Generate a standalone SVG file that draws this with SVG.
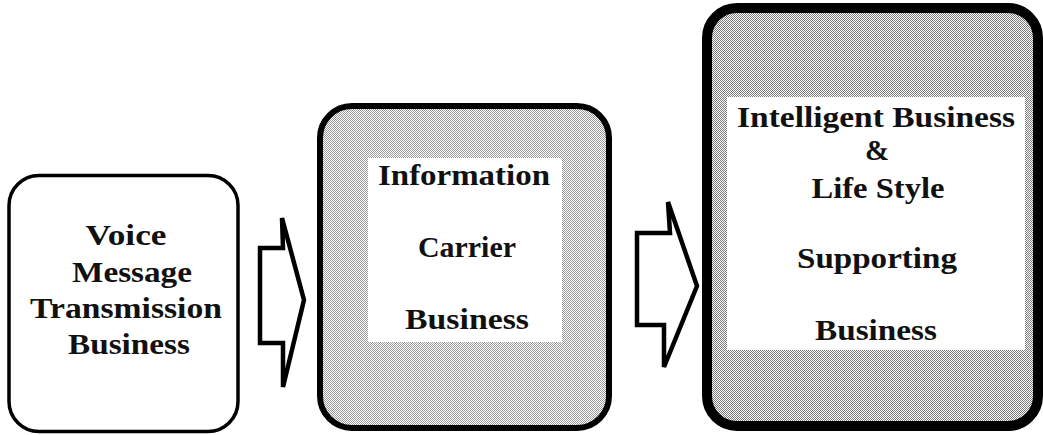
<svg xmlns="http://www.w3.org/2000/svg" width="1043" height="435" viewBox="0 0 1043 435">
<style>
  .lbl { font-family: "Liberation Serif", "Times New Roman", serif; font-weight: bold; font-size: 29px; fill: #111; text-anchor: middle; }
  .box { stroke: #000; }
  .arrow { fill: #fff; stroke: #000; stroke-width: 4.5; stroke-linejoin: miter; }
</style>
<defs>
  <pattern id="stipLight" width="2" height="2" patternUnits="userSpaceOnUse">
    <rect width="2" height="2" fill="#fff"/>
    <rect x="0" y="0" width="1" height="1" fill="#9a9a9a"/>
    <rect x="1" y="1" width="1" height="1" fill="#9a9a9a"/>
  </pattern>
  <pattern id="stipDark" width="2" height="2" patternUnits="userSpaceOnUse">
    <rect width="2" height="2" fill="#fff"/>
    <rect x="0" y="0" width="1" height="1" fill="#7a7a7a"/>
    <rect x="1" y="1" width="1" height="1" fill="#7a7a7a"/>
  </pattern>
</defs>
<rect width="1043" height="435" fill="#fff"/>

<g id="node-voice">
  <rect class="box" x="9" y="175.5" width="229" height="256" rx="30" ry="30" fill="#fff" stroke-width="3.5"/>
  <text class="lbl" x="126" y="245" textLength="81" lengthAdjust="spacingAndGlyphs">Voice</text>
  <text class="lbl" x="132" y="282" textLength="120" lengthAdjust="spacingAndGlyphs">Message</text>
  <text class="lbl" x="126" y="318" textLength="192" lengthAdjust="spacingAndGlyphs">Transmission</text>
  <text class="lbl" x="129" y="354" textLength="122" lengthAdjust="spacingAndGlyphs">Business</text>
</g>

<g id="node-carrier">
  <rect class="box" x="320" y="106" width="289" height="322" rx="32" ry="32" fill="url(#stipLight)" stroke-width="6"/>
  <rect x="368" y="158" width="194" height="184" fill="#fff"/>
  <text class="lbl" x="464" y="185" textLength="172" lengthAdjust="spacingAndGlyphs">Information</text>
  <text class="lbl" x="467" y="257" textLength="98" lengthAdjust="spacingAndGlyphs">Carrier</text>
  <text class="lbl" x="467" y="329" textLength="124" lengthAdjust="spacingAndGlyphs">Business</text>
</g>

<g id="node-intelligent">
  <rect class="box" x="707" y="8" width="331" height="418" rx="30" ry="30" fill="url(#stipDark)" stroke-width="10"/>
  <rect x="727" y="97" width="298" height="253" fill="#fff"/>
  <text class="lbl" x="876" y="127" textLength="278" lengthAdjust="spacingAndGlyphs">Intelligent Business</text>
  <text class="lbl" x="877" y="160">&amp;</text>
  <text class="lbl" x="878" y="198" textLength="133" lengthAdjust="spacingAndGlyphs">Life Style</text>
  <text class="lbl" x="877" y="268" textLength="160" lengthAdjust="spacingAndGlyphs">Supporting</text>
  <text class="lbl" x="876" y="340" textLength="122" lengthAdjust="spacingAndGlyphs">Business</text>
</g>

<g id="connectors">
  <polygon class="arrow" points="260,248 283,248 282,218 304,300 283,387 283,343 260,343"/>
  <polygon class="arrow" points="637,233 670,233 668,202 697,286 664,367 664,325 637,325"/>
</g>
</svg>
